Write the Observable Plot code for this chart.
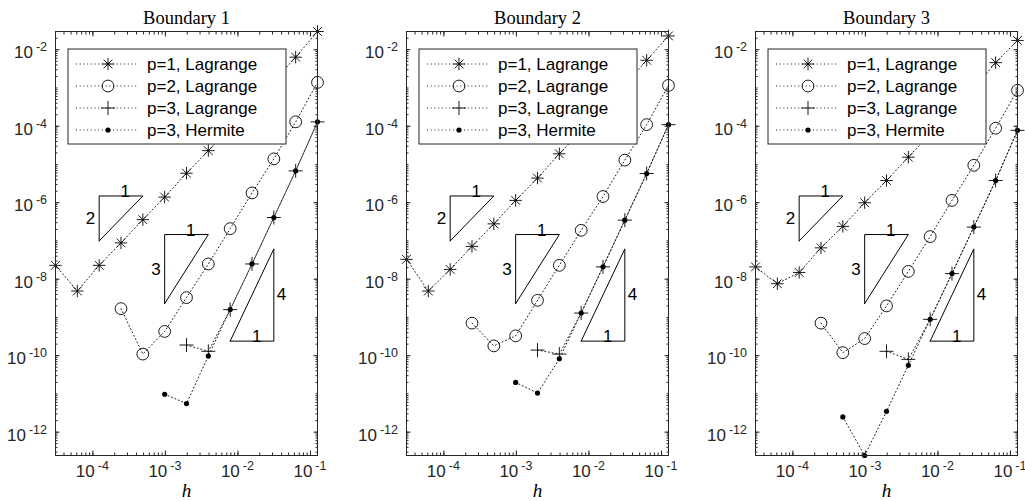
<!DOCTYPE html>
<html><head><meta charset="utf-8">
<script src="https://cdn.jsdelivr.net/npm/d3@7"></script>
<script src="https://cdn.jsdelivr.net/npm/@observablehq/plot@0.6"></script>
<style>
html,body{margin:0;padding:0;background:#fff;}
#wrap{position:relative;width:1025px;height:501px;overflow:hidden;background:#fff;}
#wrap svg{position:absolute;top:0;}
</style></head><body><div id="wrap"></div>
<script>
// ---------- data ----------
const hValues = [3.0518e-5, 6.1035e-5, 1.2207e-4, 2.4414e-4, 4.8828e-4, 9.7656e-4, 1.9531e-3, 3.9063e-3, 7.8125e-3, 0.015625, 0.03125, 0.0625, 0.125];
const panelTitles = ["Boundary 1", "Boundary 2", "Boundary 3"];
const seriesNames = ["p=1, Lagrange", "p=2, Lagrange", "p=3, Lagrange", "p=3, Hermite"];

const b1_p1Lagrange = [2.3e-8, 4.9e-9, 2.3e-8, 8.9e-8, 3.6e-7, 1.4e-6, 5.9e-6, 2.3e-5, 9.3e-5, 3.7e-4, 1.5e-3, 6.4e-3, 3.0e-2];
const b1_p2Lagrange = [null, null, null, 1.7e-9, 1.1e-10, 4.3e-10, 3.3e-9, 2.5e-8, 2.1e-7, 1.8e-6, 1.4e-5, 1.3e-4, 1.4e-3];
const b1_p3Lagrange = [null, null, null, null, null, null, 1.9e-10, 1.3e-10, 1.6e-9, 2.5e-8, 4.1e-7, 6.8e-6, 1.3e-4];
const b1_p3Hermite  = [null, null, null, null, null, 9.8e-12, 5.6e-12, 9.8e-11, 1.6e-9, 2.5e-8, 4.1e-7, 6.8e-6, 1.3e-4];

const b2_p1Lagrange = [3.3e-8, 4.9e-9, 1.8e-8, 7.2e-8, 2.8e-7, 1.15e-6, 4.4e-6, 1.9e-5, 7.6e-5, 3.0e-4, 1.2e-3, 5.3e-3, 2.3e-2];
const b2_p2Lagrange = [null, null, null, 7.1e-10, 1.8e-10, 3.3e-10, 2.8e-9, 2.3e-8, 1.9e-7, 1.45e-6, 1.3e-5, 1.1e-4, 1.17e-3];
const b2_p3Lagrange = [null, null, null, null, null, null, 1.4e-10, 1.1e-10, 1.3e-9, 2.1e-8, 3.5e-7, 5.8e-6, 1.1e-4];
const b2_p3Hermite  = [null, null, null, null, null, 2.0e-11, 1.05e-11, 8.3e-11, 1.3e-9, 2.1e-8, 3.5e-7, 5.8e-6, 1.1e-4];

const b3_p1Lagrange = [2.1e-8, 7.6e-9, 1.5e-8, 6.6e-8, 2.4e-7, 1.0e-6, 3.8e-6, 1.55e-5, 6.2e-5, 2.5e-4, 9.8e-4, 4.6e-3, 1.75e-2];
const b3_p2Lagrange = [null, null, null, 7.1e-10, 1.2e-10, 2.8e-10, 2.0e-9, 1.6e-8, 1.3e-7, 1.15e-6, 9.5e-6, 8.9e-5, 8.7e-4];
const b3_p3Lagrange = [null, null, null, null, null, null, 1.3e-10, 8.0e-11, 8.9e-10, 1.4e-8, 2.3e-7, 3.8e-6, 7.8e-5];
const b3_p3Hermite  = [null, null, null, null, 2.5e-12, 2.45e-13, 3.5e-12, 5.6e-11, 8.9e-10, 1.4e-8, 2.3e-7, 3.8e-6, 7.8e-5];

// slope triangles (annotation, data units)
const triangleVertices = [
  {id: 1, x: 1.2207e-4, y: 1.0e-7}, {id: 1, x: 1.2207e-4, y: 1.5e-6}, {id: 1, x: 4.8828e-4, y: 1.5e-6}, {id: 1, x: 1.2207e-4, y: 1.0e-7},
  {id: 2, x: 9.7656e-4, y: 2.3e-9}, {id: 2, x: 9.7656e-4, y: 1.47e-7}, {id: 2, x: 3.9063e-3, y: 1.47e-7}, {id: 2, x: 9.7656e-4, y: 2.3e-9},
  {id: 3, x: 7.8125e-3, y: 2.4e-10}, {id: 3, x: 0.03125, y: 2.4e-10}, {id: 3, x: 0.03125, y: 6.2e-8}, {id: 3, x: 7.8125e-3, y: 2.4e-10}
];
const triangleLabels = [
  {text: "1", x: 2.8e-4, y: 1.5e-6, pos: "above"},
  {text: "2", x: 1.2207e-4, y: 3.9e-7, pos: "left"},
  {text: "1", x: 2.24e-3, y: 1.47e-7, pos: "above"},
  {text: "3", x: 9.7656e-4, y: 1.84e-8, pos: "left"},
  {text: "4", x: 0.03125, y: 3.86e-9, pos: "right"},
  {text: "1", x: 0.0181, y: 2.4e-10, pos: "above"}
];

const xTickValues = [1e-4, 1e-3, 1e-2, 1e-1];
const xTickExponents = ["-4", "-3", "-2", "-1"];
const yTickValues = [1e-12, 1e-10, 1e-8, 1e-6, 1e-4, 1e-2];
const yTickExponents = ["-12", "-10", "-8", "-6", "-4", "-2"];

// ---------- build table ----------
const panels = [
  [b1_p1Lagrange, b1_p2Lagrange, b1_p3Lagrange, b1_p3Hermite],
  [b2_p1Lagrange, b2_p2Lagrange, b2_p3Lagrange, b2_p3Hermite],
  [b3_p1Lagrange, b3_p2Lagrange, b3_p3Lagrange, b3_p3Hermite]
];
const rows = [];
panels.forEach((series, p) => series.forEach((vals, s) => vals.forEach((v, k) => {
  if (v != null) rows.push({panel: p, series: s, h: hValues[k], err: v});
})));
const xDomain = d3.extent(hValues);
const yDomain = d3.extent(rows, d => d.err);

function minorTicks([a, b]) {
  const out = [];
  for (let k = Math.floor(Math.log10(a)); k <= Math.ceil(Math.log10(b)); k++)
    for (let m = 1; m <= 9; m++) { const v = m * Math.pow(10, k); if (v >= a && v <= b) out.push(v); }
  return out;
}
const xMinor = minorTicks(xDomain);
const yMinor = minorTicks(yDomain);

// ---------- symbols ----------
const starSymbol = {draw(ctx, size) {
  const r = Math.sqrt(size / Math.PI), d = r * Math.SQRT1_2;
  ctx.moveTo(-r, 0); ctx.lineTo(r, 0); ctx.moveTo(0, -r); ctx.lineTo(0, r);
  ctx.moveTo(-d, -d); ctx.lineTo(d, d); ctx.moveTo(-d, d); ctx.lineTo(d, -d);
}};
const plusSymbol = {draw(ctx, size) {
  const r = Math.sqrt(size / Math.PI);
  ctx.moveTo(-r, 0); ctx.lineTo(r, 0); ctx.moveTo(0, -r); ctx.lineTo(0, r);
}};
const markerStyles = [
  {symbol: starSymbol, r: 6.2, fill: "none", stroke: "#000", strokeWidth: 0.9},
  {symbol: "circle", r: 5.9, fill: "none", stroke: "#000", strokeWidth: 0.9},
  {symbol: plusSymbol, r: 7, fill: "none", stroke: "#000", strokeWidth: 0.9},
  {symbol: "circle", r: 2.6, fill: "#000", stroke: "none", strokeWidth: 0}
];

// ---------- layout ----------
const W = 325, H = 501, ML = 55, MR = 8, MT = 31, MB = 46;
const svgLefts = [0, 350.5, 700];
const axisColor = "#262626";
const dash = "1,2.7";
const sansFont = "'Liberation Sans', Arial, Helvetica, sans-serif";
const serifFont = "'Liberation Serif', 'Times New Roman', serif";

// power-of-ten tick labels placed with the plot's own scales
function addTickLabels(chart) {
  const sx = chart.scale("x"), sy = chart.scale("y");
  const g = d3.select(chart).append("g")
    .style("font-family", sansFont).attr("fill", axisColor);
  const label = (sel, exp) => {
    sel.append("tspan").style("font-size", "17px").text("10");
    sel.append("tspan").attr("dx", 3).attr("dy", -7).style("font-size", "12.5px").text(exp);
  };
  xTickValues.forEach((v, i) => {
    const t = g.append("text").attr("x", sx.apply(v)).attr("y", H - MB + 22)
      .attr("text-anchor", "middle");
    label(t, xTickExponents[i]);
  });
  yTickValues.forEach((v, i) => {
    const t = g.append("text").attr("x", ML - 8).attr("y", sy.apply(v) + 9)
      .attr("text-anchor", "end");
    label(t, yTickExponents[i]);
  });
}

const wrap = document.getElementById("wrap");
panels.forEach((_, p) => {
  const data = rows.filter(d => d.panel === p);
  const chart = Plot.plot({
    width: W, height: H, marginLeft: ML, marginRight: MR, marginTop: MT, marginBottom: MB,
    style: {fontFamily: sansFont, fontSize: "15px", background: "transparent", overflow: "visible"},
    x: {type: "log", domain: xDomain},
    y: {type: "log", domain: yDomain},
    marks: [
      Plot.line(data, {x: "h", y: "err", z: "series", stroke: "#000", strokeWidth: 0.9, strokeDasharray: dash}),
      Plot.line(triangleVertices, {x: "x", y: "y", z: "id", stroke: "#000", strokeWidth: 1}),
      Plot.text(triangleLabels.filter(d => d.pos === "above"), {x: "x", y: "y", text: "text", lineAnchor: "bottom", dy: 1, fontSize: 17, fill: "#000"}),
      Plot.text(triangleLabels.filter(d => d.pos === "left"), {x: "x", y: "y", text: "text", textAnchor: "end", dx: -4, fontSize: 17, fill: "#000"}),
      Plot.text(triangleLabels.filter(d => d.pos === "right"), {x: "x", y: "y", text: "text", textAnchor: "start", dx: 3, fontSize: 17, fill: "#000"}),
      ...markerStyles.map((m, s) => Plot.dot(data.filter(d => d.series === s), {x: "h", y: "err", ...m})),
      Plot.frame({stroke: axisColor, strokeWidth: 1}),
      Plot.axisX({anchor: "bottom", ticks: xMinor, tickSize: -2.5, fill: "none", stroke: axisColor, label: null}),
      Plot.axisX({anchor: "top", ticks: xMinor, tickSize: -2.5, fill: "none", stroke: axisColor, label: null}),
      Plot.axisX({anchor: "bottom", ticks: xTickValues, tickSize: -4.5, fill: "none", stroke: axisColor, label: null}),
      Plot.axisX({anchor: "top", ticks: xTickValues, tickSize: -4.5, fill: "none", stroke: axisColor, label: null}),
      Plot.axisY({anchor: "left", ticks: yMinor, tickSize: -2.5, fill: "none", stroke: axisColor, label: null}),
      Plot.axisY({anchor: "right", ticks: yMinor, tickSize: -2.5, fill: "none", stroke: axisColor, label: null}),
      Plot.axisY({anchor: "left", ticks: yTickValues, tickSize: -4.5, fill: "none", stroke: axisColor, label: null}),
      Plot.axisY({anchor: "right", ticks: yTickValues, tickSize: -4.5, fill: "none", stroke: axisColor, label: null}),
      Plot.text([panelTitles[p]], {text: d => d, frameAnchor: "top", dy: -8, lineAnchor: "bottom", fontFamily: serifFont, fontSize: 18.5, fill: "#000"}),
      Plot.text(["h"], {text: d => d, frameAnchor: "bottom", dy: 41, lineAnchor: "bottom", fontFamily: serifFont, fontStyle: "italic", fontSize: 19, fill: "#000"})
    ]
  });
  addTickLabels(chart);

  // legend (drawn over the data, like the original)
  const svg = d3.select(chart);
  const g = svg.append("g").attr("transform", `translate(${ML + 13},${MT + 18})`);
  g.append("rect").attr("width", 218).attr("height", 95).attr("fill", "#fff").attr("stroke", axisColor).attr("stroke-width", 1);
  seriesNames.forEach((name, k) => {
    const yy = 15 + k * 22;
    g.append("line").attr("x1", 8).attr("x2", 70).attr("y1", yy).attr("y2", yy)
      .attr("stroke", "#000").attr("stroke-width", 0.9).attr("stroke-dasharray", dash);
    const m = markerStyles[k];
    const type = m.symbol === "circle" ? d3.symbolCircle : m.symbol;
    g.append("path").attr("transform", `translate(40,${yy})`)
      .attr("d", d3.symbol(type, m.r * m.r * Math.PI)())
      .attr("fill", m.fill).attr("stroke", m.stroke).attr("stroke-width", m.strokeWidth);
    g.append("text").attr("x", 79).attr("y", yy).attr("dy", "0.36em")
      .attr("text-anchor", "start").style("font-size", "17px").attr("fill", "#000").text(name);
  });

  chart.style.left = svgLefts[p] + "px";
  wrap.appendChild(chart);
});
</script>
</body></html>
